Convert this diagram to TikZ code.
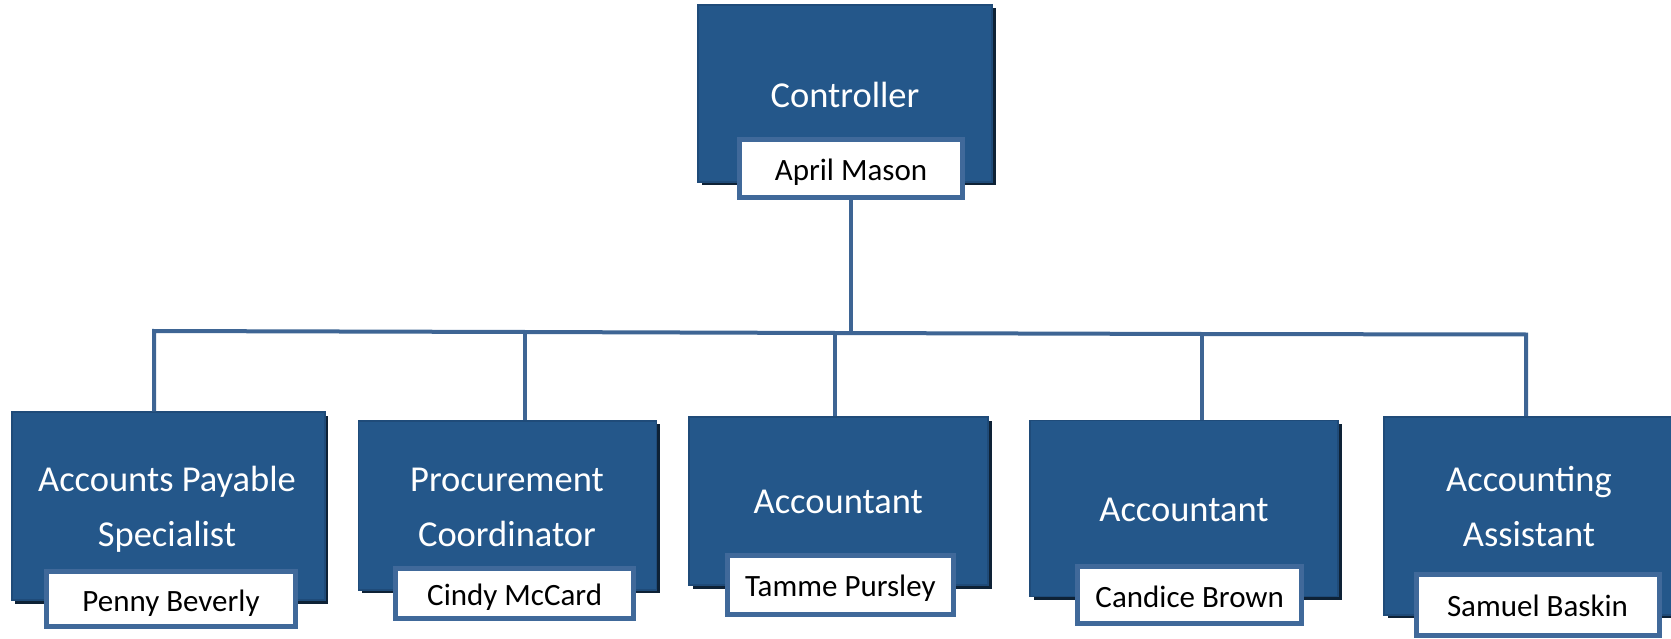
\documentclass[tikz,border=0pt]{standalone}
\usepackage{fontspec}
\setmainfont{Carlito}
\usepackage{xcolor}
\definecolor{boxblue}{HTML}{24578A}
\definecolor{boxedge}{HTML}{1F4B79}
\definecolor{boxshade}{HTML}{0E2236}
\definecolor{tagedge}{HTML}{40699A}
\definecolor{linkblue}{HTML}{3E6594}
\usepackage{tikz}
\usetikzlibrary{shadows}

\begin{document}
\begin{tikzpicture}[x=1pt,y=-1pt,
        rolebox/.style={rectangle,fill=boxblue,draw=boxedge,line width=1.5pt,inner sep=0pt,
            drop shadow={shadow xshift=3.5pt,shadow yshift=-3.5pt,opacity=1,fill=boxshade}},
        roletext/.style={text=white,align=center,anchor=base,font=\fontsize{36.5}{55}\selectfont},
        nametag/.style={rectangle,fill=white,draw=tagedge,line width=5pt,inner sep=0pt,
            text height=28pt,text depth=4pt,font=\fontsize{31}{37}\selectfont},
        link/.style={draw=linkblue,line width=4pt,line join=miter}]
        \useasboundingbox (0,0) rectangle (1671,639);

        \coordinate (b1) at (154,331);
        \coordinate (b2) at (525,332);
        \coordinate (b3) at (835,333);
        \coordinate (b4) at (1201.7,334);
        \coordinate (b5) at (1526,334.5);

        \node[rolebox,minimum width=294,minimum height=177] (ctl) at (845,93.5) {};
        \node[roletext] (ctlT) at (845,108) {Controller};
        \node[nametag,minimum width=223,minimum height=58] (ctlN) at (851,168.5) {April Mason};

        \node[rolebox,minimum width=313,minimum height=188] (aps) at (168.3,506) {};
        \node[rolebox,minimum width=298,minimum height=169] (proc) at (507.5,505.3) {};
        \node[rolebox,minimum width=299,minimum height=168] (actA) at (838.7,501) {};
        \node[rolebox,minimum width=308,minimum height=176] (actB) at (1184,508.7) {};
        \node[rolebox,minimum width=290,minimum height=198] (asst) at (1529,515.8) {};

        \draw[link] (ctlN.south) -- (ctlN.south |- b3);
        \draw[link] (b1 |- aps.north) -- (b1) -- (b2) -- (b3) -- (b4) -- (b5) -- (b5 |- asst.north);
        \draw[link] (b2) -- (b2 |- proc.north);
        \draw[link] (b3) -- (b3 |- actA.north);
        \draw[link] (b4) -- (b4 |- actB.north);

        \node[roletext] (apsT) at (167,546.7) {Accounts Payable\\Specialist};
        \node[roletext] (procT) at (507,546) {Procurement\\Coordinator};
        \node[roletext] (actAT) at (838.3,513.3) {Accountant};
        \node[roletext] (actBT) at (1184,521.7) {Accountant};
        \node[roletext] (asstT) at (1529,546.7) {Accounting\\Assistant};

        \node[nametag,minimum width=249,minimum height=55] (apsN) at (171,599) {Penny Beverly};
        \node[nametag,minimum width=238,minimum height=50] (procN) at (514.7,593.2) {Cindy McCard};
        \node[nametag,minimum width=226,minimum height=59] (actAN) at (840.3,584.5) {Tamme Pursley};
        \node[nametag,minimum width=224,minimum height=57] (actBN) at (1189.7,595) {Candice Brown};
        \node[nametag,minimum width=243,minimum height=61] (asstN) at (1537.5,604.8) {Samuel Baskin};

    \end{tikzpicture}
\end{document}
